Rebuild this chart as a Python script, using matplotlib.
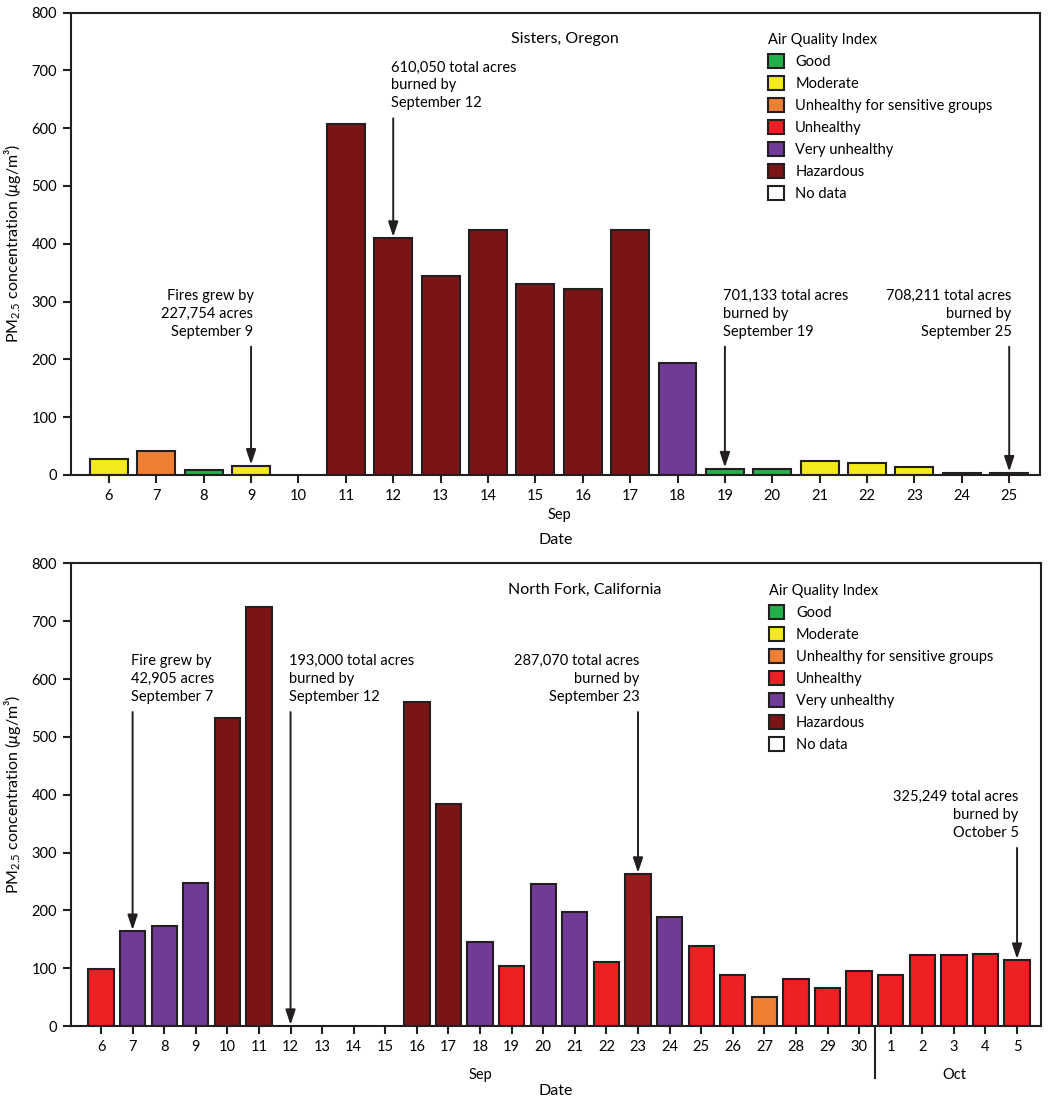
import matplotlib
matplotlib.use('Agg')
import matplotlib.pyplot as plt
import matplotlib.transforms as mtransforms
from matplotlib.patches import Patch
import numpy as np

plt.rcParams['font.family'] = ['Lato', 'DejaVu Sans']
plt.rcParams['mathtext.fontset'] = 'custom'
plt.rcParams['mathtext.rm'] = 'Lato'
plt.rcParams['mathtext.it'] = 'Lato:italic'

# AQI categories and colors
aqi_labels = ['Good', 'Moderate', 'Unhealthy for sensitive groups', 'Unhealthy',
              'Very unhealthy', 'Hazardous', 'No data']
aqi_colors = {'Good': '#22B04B', 'Moderate': '#F2EA1D',
              'Unhealthy for sensitive groups': '#EF8033', 'Unhealthy': '#ED2024',
              'Very unhealthy': '#713A97', 'Hazardous': '#7A1416',
              'Hazardous2': '#981B1E', 'No data': 'white'}

# Sisters, Oregon (Sep 6-25)
sis_days = [str(d) for d in range(6, 26)]
sis_pm = [28, 42, 9, 16, None, 607, 410, 345, 423, 330, 322, 423, 193,
          11, 11, 24, 20, 13, 4, 4]
sis_cat = ['Moderate', 'Unhealthy for sensitive groups', 'Good', 'Moderate', 'No data',
           'Hazardous', 'Hazardous', 'Hazardous', 'Hazardous', 'Hazardous', 'Hazardous',
           'Hazardous', 'Very unhealthy', 'Good', 'Good', 'Moderate', 'Moderate',
           'Moderate', 'Good', 'Good']

# North Fork, California (Sep 6 - Oct 5)
nf_days = [str(d) for d in range(6, 31)] + [str(d) for d in range(1, 6)]
nf_pm = [99, 164, 173, 247, 533, 725, None, None, None, None, 560, 384, 146, 103,
         245, 197, 111, 263, 189, 138, 89, 50, 82, 66, 96, 88, 123, 123, 124, 114]
nf_cat = ['Unhealthy', 'Very unhealthy', 'Very unhealthy', 'Very unhealthy', 'Hazardous',
          'Hazardous', 'No data', 'No data', 'No data', 'No data', 'Hazardous', 'Hazardous',
          'Very unhealthy', 'Unhealthy', 'Very unhealthy', 'Very unhealthy', 'Unhealthy',
          'Hazardous2', 'Very unhealthy', 'Unhealthy', 'Unhealthy',
          'Unhealthy for sensitive groups', 'Unhealthy', 'Unhealthy', 'Unhealthy',
          'Unhealthy', 'Unhealthy', 'Unhealthy', 'Unhealthy', 'Unhealthy']

# annotations: (bar index, text, arrow start y, text alignment)
sis_notes = [(3, 'Fires grew by\n227,754 acres\nSeptember 9', 222, 'right'),
             (6, '610,050 total acres\nburned by\nSeptember 12', 617, 'left'),
             (13, '701,133 total acres\nburned by\nSeptember 19', 222, 'left'),
             (19, '708,211 total acres\nburned by\nSeptember 25', 222, 'right')]
nf_notes = [(1, 'Fire grew by\n42,905 acres\nSeptember 7', 543, 'left'),
            (6, '193,000 total acres\nburned by\nSeptember 12', 543, 'left'),
            (17, '287,070 total acres\nburned by\nSeptember 23', 543, 'right'),
            (29, '325,249 total acres\nburned by\nOctober 5', 308, 'right')]

dark = '#231F20'
fs = 10.5


def draw_panel(ax, days, pm, cats, notes, title, title_x, xlim):
    x = np.arange(len(days))
    idx = [i for i in x if pm[i] is not None]
    ax.bar([x[i] for i in idx], [pm[i] for i in idx], width=0.8,
           color=[aqi_colors[cats[i]] for i in idx], edgecolor=dark, linewidth=1.5, zorder=2)
    ax.set_xlim(*xlim)
    ax.set_ylim(0, 800)
    ax.set_yticks(range(0, 801, 100))
    ax.set_xticks(x)
    ax.set_xticklabels(days)
    ax.tick_params(axis='both', direction='out', length=6, width=1.5, color=dark,
                   labelsize=fs, pad=4)
    for s in ax.spines.values():
        s.set_linewidth(1.5)
        s.set_color(dark)
    ax.set_ylabel('PM$_{2.5}$ concentration ($\\mathit{\\mu}$g/m³)', fontsize=11.5, labelpad=6)
    ax.text(title_x, 0.942, title, transform=ax.transAxes, ha='center', va='center',
            fontsize=11.5)

    for i, txt, y0, ha in notes:
        top = pm[i] if pm[i] is not None else 0
        ax.annotate('', xy=(x[i], top + 2), xytext=(x[i], y0),
                    arrowprops=dict(arrowstyle='-|>,head_length=0.9,head_width=0.3',
                                    color=dark, lw=1.4, shrinkA=0, shrinkB=0), zorder=3)
        ax.text(x[i] + (0.05 if ha == 'right' else -0.05), y0 + 14, txt, ha=ha,
                va='bottom', fontsize=fs, linespacing=1.35)

    handles = [Patch(facecolor=aqi_colors[c], edgecolor=dark, linewidth=1.5) for c in aqi_labels]
    ax.legend(handles, aqi_labels, title='Air Quality Index', loc='upper left',
              bbox_to_anchor=(0.712, 0.972), frameon=False, fontsize=fs,
              title_fontsize=fs, alignment='left', handlelength=1.05,
              handleheight=1.05, handletextpad=0.8, labelspacing=0.5, borderpad=0)
    return x


fig = plt.figure(figsize=(10.52, 11.01), dpi=100)
ax1 = fig.add_axes([0.0675, 0.5686, 0.9211, 0.4200])
ax2 = fig.add_axes([0.0675, 0.0681, 0.9221, 0.4201])

x1 = draw_panel(ax1, sis_days, sis_pm, sis_cat, sis_notes, 'Sisters, Oregon', 0.51,
                (-0.8, 19.65))
ax1.text(9.5, -0.087, 'Sep', transform=mtransforms.blended_transform_factory(ax1.transData, ax1.transAxes),
         ha='center', va='center', fontsize=fs)
ax1.set_xlabel('Date', fontsize=11.5, labelpad=22)

x2 = draw_panel(ax2, nf_days, nf_pm, nf_cat, nf_notes, 'North Fork, California', 0.53,
                (-0.95, 29.76))
tr = mtransforms.blended_transform_factory(ax2.transData, ax2.transAxes)
ax2.text(12, -0.106, 'Sep', transform=tr, ha='center', va='center', fontsize=fs)
ax2.text(27, -0.106, 'Oct', transform=tr, ha='center', va='center', fontsize=fs)
ax2.plot([24.5, 24.5], [0, -0.113], transform=tr, color=dark, lw=1.5, clip_on=False)
ax2.set_xlabel('Date', fontsize=11.5, labelpad=22)

fig.savefig('out.png', dpi=100)
